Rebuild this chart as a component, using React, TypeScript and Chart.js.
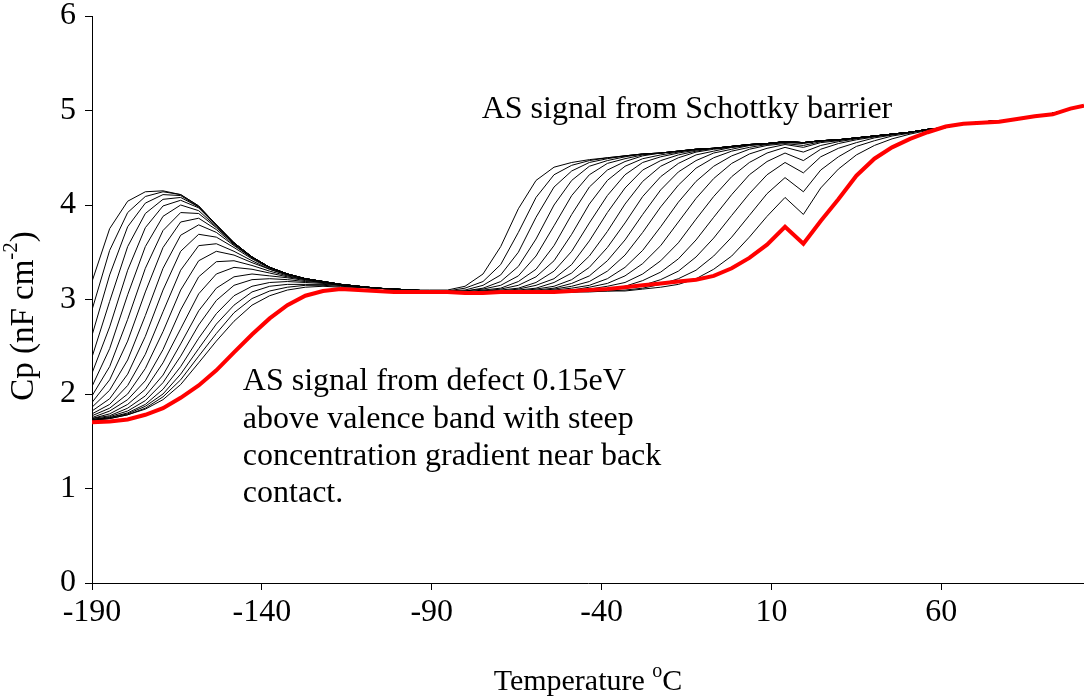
import React, { useEffect, useRef } from "react";
import { Chart, registerables } from "chart.js";

Chart.register(...registerables);

// Temperature (°C) of each measurement point
const temperatures = [-190,-184.8,-179.5,-174.3,-169.1,-163.9,-158.6,-153.4,-148.2,-142.9,-137.7,-132.5,-127.2,-122,-116.8,-111.6,-106.3,-101.1,-95.9,-90.6,-85.4,-80.2,-74.9,-69.7,-64.5,-59.3,-54,-48.8,-43.6,-38.3,-33.1,-27.9,-22.6,-17.4,-12.2,-7,-1.7,3.5,8.7,14,19.4,24.5,29.7,35,40.3,45.5,50.8,56,61.3,66.5,71.8,77,82.3,87.5,92.8,98,102];

const xTickValues = [-190, -140, -90, -40, 10, 60];
const yTickValues = [0, 1, 2, 3, 4, 5, 6];

// Highest-frequency curve (red)
const redCurve = [1.70,1.71,1.73,1.78,1.85,1.96,2.09,2.25,2.44,2.63,2.80,2.94,3.04,3.09,3.11,3.10,3.09,3.08,3.08,3.08,3.08,3.07,3.07,3.08,3.08,3.08,3.08,3.09,3.10,3.11,3.13,3.15,3.17,3.19,3.21,3.25,3.33,3.44,3.58,3.77,3.59,3.83,4.06,4.31,4.49,4.61,4.70,4.77,4.83,4.86,4.87,4.88,4.91,4.94,4.96,5.02,5.05];

// Lower-frequency curves (black), from lowest frequency to highest
const curve01 = [3.19,3.75,4.04,4.14,4.15,4.11,3.99,3.79,3.60,3.45,3.34,3.27,3.22,3.19,3.16,3.14,3.12,3.11,3.10,3.10,3.10,3.14,3.27,3.56,3.96,4.26,4.40,4.45,4.48,4.50,4.52,4.54,4.55,4.57,4.59,4.60,4.62,4.64,4.65,4.67,4.66,4.68,4.69,4.71,4.73,4.75,4.77,4.80,4.82,4.86,4.88,4.89,4.91,4.94,4.97,5.02,5.05];
const curve02 = [2.89,3.52,3.92,4.09,4.14,4.11,3.99,3.79,3.60,3.45,3.34,3.27,3.22,3.19,3.16,3.14,3.12,3.11,3.10,3.09,3.09,3.12,3.19,3.37,3.71,4.08,4.32,4.42,4.47,4.50,4.52,4.54,4.55,4.57,4.59,4.60,4.62,4.64,4.65,4.67,4.66,4.68,4.69,4.71,4.73,4.75,4.77,4.80,4.82,4.86,4.88,4.89,4.91,4.94,4.97,5.02,5.05];
const curve03 = [2.62,3.26,3.77,4.02,4.11,4.10,3.98,3.79,3.60,3.45,3.34,3.27,3.22,3.19,3.16,3.14,3.12,3.11,3.10,3.09,3.09,3.10,3.15,3.26,3.50,3.87,4.19,4.36,4.45,4.49,4.52,4.54,4.55,4.57,4.59,4.60,4.62,4.64,4.65,4.67,4.66,4.68,4.69,4.71,4.73,4.75,4.77,4.80,4.82,4.86,4.88,4.89,4.91,4.94,4.97,5.02,5.05];
const curve04 = [2.39,2.98,3.56,3.91,4.06,4.08,3.98,3.79,3.60,3.45,3.34,3.27,3.22,3.19,3.16,3.14,3.12,3.11,3.10,3.09,3.08,3.09,3.12,3.19,3.35,3.64,4.00,4.26,4.41,4.47,4.51,4.54,4.55,4.57,4.59,4.60,4.62,4.64,4.65,4.67,4.66,4.68,4.69,4.71,4.73,4.75,4.77,4.80,4.82,4.86,4.88,4.89,4.91,4.94,4.97,5.02,5.05];
const curve05 = [2.22,2.71,3.31,3.76,3.99,4.05,3.97,3.78,3.60,3.45,3.34,3.27,3.22,3.19,3.16,3.14,3.12,3.11,3.10,3.09,3.08,3.09,3.11,3.15,3.25,3.46,3.78,4.10,4.32,4.44,4.49,4.53,4.55,4.57,4.59,4.60,4.62,4.64,4.65,4.67,4.66,4.68,4.69,4.71,4.73,4.75,4.77,4.80,4.82,4.86,4.88,4.89,4.91,4.94,4.97,5.02,5.05];
const curve06 = [2.08,2.48,3.05,3.56,3.88,4.00,3.94,3.77,3.59,3.45,3.34,3.27,3.22,3.19,3.16,3.14,3.12,3.11,3.10,3.09,3.08,3.08,3.10,3.12,3.19,3.32,3.57,3.90,4.19,4.37,4.46,4.52,4.55,4.57,4.59,4.60,4.62,4.64,4.65,4.67,4.66,4.68,4.69,4.71,4.73,4.75,4.77,4.80,4.82,4.86,4.88,4.89,4.91,4.94,4.97,5.02,5.05];
const curve07 = [1.98,2.29,2.79,3.33,3.73,3.92,3.91,3.76,3.59,3.45,3.34,3.27,3.22,3.19,3.16,3.14,3.12,3.11,3.10,3.09,3.08,3.08,3.09,3.11,3.15,3.24,3.41,3.69,4.01,4.26,4.41,4.49,4.53,4.56,4.59,4.60,4.62,4.64,4.65,4.67,4.66,4.68,4.69,4.71,4.73,4.75,4.77,4.80,4.82,4.86,4.88,4.89,4.91,4.94,4.97,5.02,5.05];
const curve08 = [1.91,2.15,2.56,3.08,3.55,3.82,3.86,3.74,3.58,3.44,3.34,3.27,3.22,3.19,3.16,3.14,3.12,3.11,3.10,3.09,3.08,3.08,3.09,3.10,3.12,3.18,3.30,3.51,3.81,4.10,4.32,4.45,4.51,4.55,4.58,4.60,4.62,4.64,4.65,4.67,4.66,4.68,4.69,4.71,4.73,4.75,4.77,4.80,4.82,4.86,4.88,4.89,4.91,4.94,4.97,5.02,5.05];
const curve09 = [1.86,2.04,2.36,2.83,3.33,3.68,3.79,3.71,3.57,3.44,3.34,3.27,3.22,3.19,3.16,3.14,3.12,3.11,3.10,3.09,3.08,3.08,3.08,3.09,3.11,3.15,3.22,3.37,3.62,3.92,4.18,4.37,4.47,4.53,4.57,4.60,4.62,4.64,4.65,4.67,4.66,4.68,4.69,4.71,4.73,4.75,4.77,4.80,4.82,4.86,4.88,4.89,4.91,4.94,4.97,5.02,5.05];
const curve10 = [1.82,1.95,2.21,2.61,3.10,3.51,3.69,3.66,3.55,3.43,3.33,3.27,3.22,3.19,3.16,3.14,3.12,3.11,3.10,3.09,3.08,3.08,3.08,3.09,3.10,3.12,3.18,3.28,3.46,3.72,4.01,4.25,4.41,4.50,4.56,4.59,4.61,4.64,4.65,4.67,4.66,4.68,4.69,4.71,4.73,4.75,4.77,4.80,4.82,4.86,4.88,4.89,4.91,4.94,4.97,5.02,5.05];
const curve11 = [1.79,1.89,2.09,2.42,2.87,3.31,3.57,3.59,3.51,3.41,3.32,3.26,3.22,3.19,3.16,3.14,3.12,3.11,3.10,3.09,3.08,3.08,3.08,3.08,3.09,3.11,3.14,3.21,3.34,3.55,3.81,4.09,4.30,4.44,4.53,4.57,4.61,4.63,4.65,4.67,4.66,4.68,4.69,4.71,4.73,4.75,4.77,4.80,4.82,4.86,4.88,4.89,4.91,4.94,4.97,5.02,5.05];
const curve12 = [1.77,1.85,2.00,2.27,2.66,3.10,3.41,3.51,3.47,3.39,3.32,3.26,3.22,3.19,3.16,3.14,3.12,3.11,3.10,3.09,3.08,3.08,3.08,3.08,3.09,3.10,3.12,3.17,3.25,3.41,3.63,3.90,4.16,4.35,4.47,4.55,4.59,4.63,4.65,4.67,4.66,4.68,4.69,4.71,4.73,4.75,4.77,4.80,4.82,4.86,4.88,4.89,4.91,4.94,4.97,5.02,5.05];
const curve13 = [1.75,1.82,1.94,2.14,2.47,2.89,3.24,3.40,3.41,3.36,3.30,3.25,3.21,3.19,3.16,3.14,3.12,3.11,3.10,3.09,3.08,3.08,3.08,3.08,3.08,3.09,3.11,3.14,3.19,3.30,3.47,3.71,3.98,4.21,4.39,4.50,4.57,4.61,4.64,4.66,4.65,4.68,4.69,4.71,4.73,4.75,4.77,4.80,4.82,4.86,4.88,4.89,4.91,4.94,4.97,5.02,5.05];
const curve14 = [1.74,1.79,1.89,2.05,2.33,2.69,3.06,3.27,3.34,3.32,3.28,3.24,3.21,3.18,3.16,3.14,3.12,3.11,3.10,3.09,3.08,3.08,3.08,3.08,3.08,3.09,3.10,3.12,3.15,3.22,3.34,3.52,3.77,4.03,4.25,4.41,4.52,4.59,4.63,4.65,4.63,4.67,4.69,4.71,4.73,4.75,4.77,4.80,4.82,4.86,4.88,4.89,4.91,4.94,4.97,5.02,5.05];
const curve15 = [1.74,1.77,1.85,1.98,2.20,2.53,2.88,3.12,3.24,3.27,3.25,3.23,3.20,3.18,3.16,3.14,3.12,3.11,3.10,3.09,3.08,3.08,3.08,3.08,3.08,3.08,3.09,3.10,3.13,3.17,3.25,3.38,3.57,3.82,4.07,4.28,4.44,4.54,4.60,4.64,4.61,4.66,4.68,4.71,4.73,4.75,4.77,4.80,4.82,4.86,4.88,4.89,4.91,4.94,4.97,5.02,5.05];
const curve16 = [1.73,1.76,1.82,1.93,2.12,2.40,2.73,2.99,3.15,3.21,3.22,3.21,3.19,3.18,3.15,3.14,3.12,3.11,3.10,3.09,3.08,3.08,3.08,3.08,3.08,3.08,3.09,3.10,3.11,3.14,3.18,3.27,3.41,3.60,3.85,4.09,4.30,4.45,4.55,4.61,4.56,4.63,4.67,4.70,4.73,4.75,4.77,4.80,4.82,4.86,4.88,4.89,4.91,4.94,4.97,5.02,5.05];
const curve17 = [1.73,1.75,1.80,1.89,2.05,2.29,2.59,2.85,3.04,3.14,3.18,3.19,3.18,3.17,3.15,3.13,3.12,3.11,3.10,3.09,3.08,3.08,3.08,3.08,3.08,3.08,3.08,3.09,3.10,3.11,3.14,3.20,3.29,3.43,3.63,3.87,4.11,4.32,4.46,4.55,4.47,4.59,4.65,4.69,4.72,4.75,4.77,4.80,4.82,4.86,4.88,4.89,4.91,4.94,4.97,5.02,5.05];
const curve18 = [1.72,1.75,1.79,1.87,2.00,2.21,2.48,2.74,2.94,3.08,3.14,3.16,3.16,3.16,3.15,3.13,3.12,3.11,3.10,3.09,3.08,3.08,3.08,3.08,3.08,3.08,3.08,3.08,3.09,3.10,3.12,3.15,3.21,3.30,3.45,3.65,3.89,4.12,4.32,4.45,4.34,4.51,4.60,4.66,4.71,4.74,4.77,4.80,4.82,4.86,4.88,4.89,4.91,4.94,4.97,5.02,5.05];
const curve19 = [1.72,1.74,1.78,1.85,1.97,2.15,2.40,2.64,2.86,3.01,3.09,3.13,3.15,3.15,3.14,3.13,3.12,3.11,3.10,3.09,3.08,3.08,3.08,3.08,3.08,3.08,3.08,3.08,3.09,3.09,3.10,3.12,3.16,3.22,3.31,3.46,3.66,3.89,4.12,4.29,4.14,4.37,4.51,4.62,4.68,4.73,4.76,4.80,4.82,4.86,4.88,4.89,4.91,4.94,4.97,5.02,5.05];
const curve20 = [1.72,1.74,1.78,1.84,1.94,2.10,2.33,2.56,2.77,2.94,3.04,3.10,3.13,3.14,3.13,3.13,3.12,3.11,3.10,3.09,3.08,3.08,3.08,3.08,3.08,3.08,3.08,3.08,3.08,3.09,3.09,3.11,3.13,3.16,3.22,3.32,3.46,3.66,3.88,4.08,3.90,4.18,4.38,4.53,4.63,4.70,4.75,4.79,4.82,4.86,4.88,4.89,4.91,4.94,4.97,5.02,5.05];

const blackCurves = [curve01,curve02,curve03,curve04,curve05,curve06,curve07,curve08,curve09,curve10,curve11,curve12,curve13,curve14,curve15,curve16,curve17,curve18,curve19,curve20];

const schottkyLabel = "AS signal from Schottky barrier";
const defectLabel = [
  "AS signal from defect 0.15eV",
  "above valence band with steep",
  "concentration gradient near back",
  "contact.",
];

const SERIF = "'Liberation Serif', 'Times New Roman', serif";

type Part = { t: string; size: number; dy?: number };

function drawRich(ctx: CanvasRenderingContext2D, parts: Part[], cx: number, cy: number) {
  let total = 0;
  for (const p of parts) {
    ctx.font = `${p.size}px ${SERIF}`;
    total += ctx.measureText(p.t).width;
  }
  let x = cx - total / 2;
  for (const p of parts) {
    ctx.font = `${p.size}px ${SERIF}`;
    ctx.fillText(p.t, x, cy + (p.dy || 0));
    x += ctx.measureText(p.t).width;
  }
}

const textPlugin = {
  id: "chartTexts",
  afterDraw(chart: any) {
    const ctx: CanvasRenderingContext2D = chart.ctx;
    const xs = chart.scales.x;
    const ys = chart.scales.y;
    const area = chart.chartArea;
    ctx.save();
    ctx.fillStyle = "#000";
    ctx.textAlign = "left";
    ctx.textBaseline = "alphabetic";
    ctx.font = `32px ${SERIF}`;
    ctx.fillText(schottkyLabel, xs.getPixelForValue(-75.3), ys.getPixelForValue(4.92));
    const x0 = xs.getPixelForValue(-145.6);
    const y0 = ys.getPixelForValue(2.04);
    defectLabel.forEach((line, i) => ctx.fillText(line, x0, y0 + i * 37.3));

    // x-axis title
    drawRich(
      ctx,
      [
        { t: "Temperature ", size: 30 },
        { t: "o", size: 20, dy: -13 },
        { t: "C", size: 30 },
      ],
      (area.left + area.right) / 2,
      690
    );

    // y-axis title (rotated)
    ctx.translate(24, 316);
    ctx.rotate(-Math.PI / 2);
    ctx.textBaseline = "middle";
    drawRich(
      ctx,
      [
        { t: "Cp (nF cm", size: 33 },
        { t: "-2", size: 21, dy: -13 },
        { t: ")", size: 33 },
      ],
      0,
      0
    );
    ctx.restore();
  },
};

export default function App() {
  const canvasRef = useRef<HTMLCanvasElement | null>(null);

  useEffect(() => {
    const canvas = canvasRef.current;
    if (!canvas) return;

    const datasets: any[] = [];
    datasets.push({
      label: "red",
      data: temperatures.map((t, i) => ({ x: t, y: redCurve[i] })),
      borderColor: "#ff0000",
      borderWidth: 4,
      pointRadius: 0,
      tension: 0,
      fill: false,
    });
    blackCurves.forEach((c, k) => {
      datasets.push({
        label: `c${k + 1}`,
        data: temperatures.map((t, i) => ({ x: t, y: c[i] })),
        borderColor: "#000000",
        borderWidth: 1,
        pointRadius: 0,
        tension: 0,
        fill: false,
      });
    });

    const chart = new Chart(canvas, {
      type: "line",
      data: { datasets },
      options: {
        responsive: false,
        animation: false,
        devicePixelRatio: 1,
        events: [],
        layout: { padding: { top: 16, left: 0, right: 0, bottom: 0 } },
        plugins: { legend: { display: false }, tooltip: { enabled: false } },
        scales: {
          x: {
            type: "linear",
            min: -190,
            max: 102,
            afterBuildTicks: (axis: any) => {
              axis.ticks = xTickValues.map((v) => ({ value: v }));
            },
            afterFit: (s: any) => {
              s.height = 117;
              s.paddingLeft = 0;
              s.paddingRight = 0;
            },
            grid: {
              drawOnChartArea: false,
              drawTicks: true,
              tickLength: 7,
              color: "#000",
            },
            border: { display: true, color: "#000", width: 1 },
            ticks: {
              color: "#000",
              padding: 3,
              font: { family: SERIF, size: 32 },
              maxRotation: 0,
              autoSkip: false,
            },
          },
          y: {
            type: "linear",
            min: 0,
            max: 6,
            afterBuildTicks: (axis: any) => {
              axis.ticks = yTickValues.map((v) => ({ value: v }));
            },
            afterFit: (s: any) => {
              s.width = 92;
              s.paddingTop = 0;
              s.paddingBottom = 0;
            },
            grid: {
              drawOnChartArea: false,
              drawTicks: true,
              tickLength: 7,
              color: "#000",
            },
            border: { display: true, color: "#000", width: 1 },
            ticks: {
              color: "#000",
              padding: 9,
              font: { family: SERIF, size: 32 },
            },
          },
        },
      },
      plugins: [textPlugin],
    } as any);

    return () => chart.destroy();
  }, []);

  return (
    <div
      style={{
        position: "absolute",
        left: 0,
        top: 0,
        width: 1084,
        height: 700,
        overflow: "hidden",
        background: "#fff",
      }}
    >
      <canvas ref={canvasRef} width={1084} height={700} style={{ display: "block" }} />
    </div>
  );
}
